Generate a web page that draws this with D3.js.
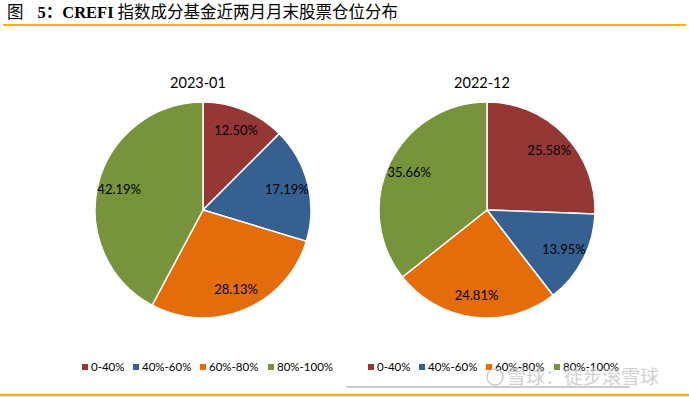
<!DOCTYPE html>
<html>
<head>
<meta charset="utf-8">
<script src="https://cdn.jsdelivr.net/npm/d3@7"></script>
<style>
  html, body { margin: 0; padding: 0; background: #fff; }
</style>
</head>
<body>
<div id="root"></div>
<script>
const categories = ["0-40%", "40%-60%", "60%-80%", "80%-100%"];
const months = ["2023-01", "2022-12"];
const values202301 = [12.50, 17.19, 28.13, 42.19];
const values202212 = [25.58, 13.95, 24.81, 35.66];
const colors = ["#953735", "#376092", "#E46C0A", "#77933C"];

const width = 689;
const height = 397;
const radius = 108;

const svg = d3.select("#root")
  .append("svg")
    .attr("width", width)
    .attr("height", height);

// title, latin part bold like the source
const title = svg.append("text")
    .attr("x", 7)
    .attr("y", 18)
    .attr("font-family", "'Liberation Serif', 'Noto Sans CJK SC', serif")
    .attr("font-size", 16.5)
    .attr("fill", "#000");
title.append("tspan").text("图");
title.append("tspan").attr("dx", 14).attr("font-weight", "bold").text("5：CREFI");
title.append("tspan").attr("dx", 4).text("指数成分基金近两月月末股票仓位分布");

svg.append("line")
    .attr("x1", 3).attr("x2", 686)
    .attr("y1", 25).attr("y2", 25)
    .attr("stroke", "#F7B100")
    .attr("stroke-width", 2);

svg.append("line")
    .attr("x1", 0).attr("x2", 689)
    .attr("y1", 395).attr("y2", 395)
    .attr("stroke", "#F7B100")
    .attr("stroke-width", 2.5);

const pie = d3.pie().sort(null).value(d => d);
const arc = d3.arc().innerRadius(0).outerRadius(radius);
const labelArc = d3.arc().innerRadius(radius * 0.8).outerRadius(radius * 0.8);

const charts = [
  { title: months[0], values: values202301, cx: 203, legendX: 82 },
  { title: months[1], values: values202212, cx: 487, legendX: 368 }
];

const legendOffsets = [0, 51, 118, 186];

charts.forEach(c => {
  const g = svg.append("g").attr("transform", `translate(${c.cx}, 210)`);

  g.selectAll("path")
    .data(pie(c.values))
    .enter()
    .append("path")
      .attr("d", arc)
      .attr("fill", (d, i) => colors[i])
      .attr("stroke", "#fff")
      .attr("stroke-width", 1.5);

  g.selectAll("text.lbl")
    .data(pie(c.values))
    .enter()
    .append("text")
      .attr("class", "lbl")
      .attr("transform", d => `translate(${labelArc.centroid(d)})`)
      .attr("text-anchor", "middle")
      .attr("dy", "0.35em")
      .attr("font-family", "Lato, sans-serif")
      .attr("font-size", 13)
      .attr("fill", "#000")
      .text(d => d.data.toFixed(2) + "%");

  svg.append("text")
      .attr("x", c.cx - 5)
      .attr("y", 88)
      .attr("text-anchor", "middle")
      .attr("font-family", "Lato, sans-serif")
      .attr("font-size", 14.5)
      .attr("fill", "#000")
      .text(c.title);

  const legend = svg.append("g").attr("transform", `translate(${c.legendX}, 367)`);
  const item = legend.selectAll("g")
    .data(categories)
    .enter()
    .append("g")
      .attr("transform", (d, i) => `translate(${legendOffsets[i]}, 0)`);
  item.append("rect")
      .attr("x", 0).attr("y", -3)
      .attr("width", 6).attr("height", 6)
      .attr("fill", (d, i) => colors[i]);
  item.append("text")
      .attr("x", 9)
      .attr("dy", "0.35em")
      .attr("font-family", "Lato, sans-serif")
      .attr("font-size", 11.5)
      .attr("fill", "#000")
      .text(d => d);
});

// watermark
svg.append("line")
    .attr("x1", 346).attr("x2", 630)
    .attr("y1", 387).attr("y2", 387)
    .attr("stroke", "#999")
    .attr("stroke-width", 1);
svg.append("circle")
    .attr("cx", 495).attr("cy", 377).attr("r", 8)
    .attr("fill", "none")
    .attr("stroke", "#ccc")
    .attr("stroke-width", 1.5);
svg.append("text")
    .attr("x", 507)
    .attr("y", 384)
    .attr("font-family", "'Noto Sans CJK SC', sans-serif")
    .attr("font-size", 19)
    .attr("fill", "#c8c8c8")
    .attr("fill-opacity", 0.85)
    .text("雪球：徒步滚雪球");
</script>
</body>
</html>
